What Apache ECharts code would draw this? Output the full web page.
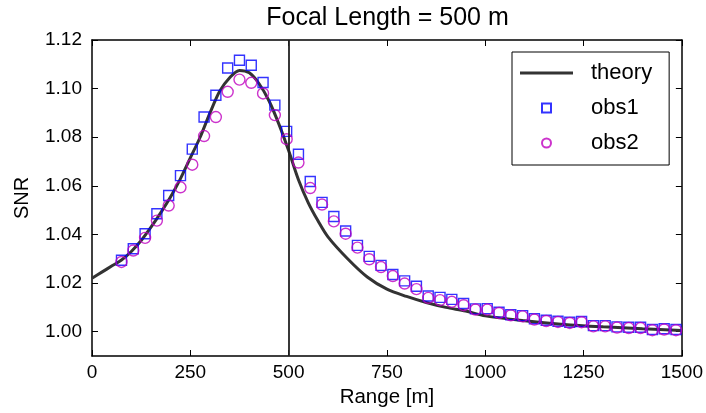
<!DOCTYPE html>
<html>
<head>
<meta charset="utf-8">
<script src="https://cdn.jsdelivr.net/npm/echarts@6/dist/echarts.min.js"></script>
<style>
html,body{margin:0;padding:0;background:#fff;}
#chart{width:706px;height:413px;}
</style>
</head>
<body>
<div id="chart"></div>
<script>
// ---- data ----
const titleText = 'Focal Length = 500 m';
const xTicks = [0, 250, 500, 750, 1000, 1250, 1500];
const yTicks = [1.00, 1.02, 1.04, 1.06, 1.08, 1.10, 1.12];
const focalLength = 500;

const theoryX = [0, 25, 50, 75, 100, 125, 150, 175, 200, 225, 250, 275, 300, 325, 350, 375, 400, 425, 450, 475, 500, 525, 550, 575, 600, 650, 700, 750, 800, 850, 900, 950, 1000, 1100, 1200, 1300, 1400, 1500];
const theoryY = [1.022, 1.0245, 1.027, 1.0295, 1.033, 1.0375, 1.043, 1.049, 1.0555, 1.063, 1.0715, 1.080, 1.090, 1.099, 1.1045, 1.1075, 1.1065, 1.102, 1.095, 1.0855, 1.0745, 1.0625, 1.053, 1.0455, 1.039, 1.030, 1.0225, 1.0175, 1.0145, 1.012, 1.010, 1.0085, 1.0065, 1.0045, 1.003, 1.002, 1.0012, 1.0005];

const obsX = [75, 105, 135, 165, 195, 225, 255, 285, 315, 345, 375, 405, 435, 465, 495, 525, 555, 585, 615, 645, 675, 705, 735, 765, 795, 825, 855, 885, 915, 945, 975, 1005, 1035, 1065, 1095, 1125, 1155, 1185, 1215, 1245, 1275, 1305, 1335, 1365, 1395, 1425, 1455, 1485];
const obs1Y = [1.0294, 1.0341, 1.0403, 1.0485, 1.056, 1.0642, 1.0751, 1.0883, 1.0973, 1.1085, 1.1117, 1.1096, 1.1025, 1.0932, 1.0824, 1.073, 1.0618, 1.0532, 1.0474, 1.0414, 1.0355, 1.031, 1.0273, 1.0235, 1.0209, 1.0187, 1.0147, 1.0141, 1.0133, 1.0116, 1.0094, 1.0095, 1.008, 1.007, 1.0066, 1.0053, 1.0047, 1.0043, 1.0039, 1.0042, 1.0025, 1.0025, 1.002, 1.0018, 1.0018, 1.0009, 1.0012, 1.0009];
const obs2Y = [1.0287, 1.0334, 1.0386, 1.0457, 1.0519, 1.0594, 1.0687, 1.0805, 1.0883, 1.0987, 1.1037, 1.1024, 1.098, 1.0891, 1.0792, 1.0696, 1.0591, 1.0523, 1.0454, 1.0403, 1.0346, 1.0298, 1.0266, 1.0229, 1.0198, 1.0175, 1.0139, 1.013, 1.0123, 1.0109, 1.0091, 1.0091, 1.0077, 1.0067, 1.0063, 1.005, 1.0044, 1.004, 1.0036, 1.0039, 1.0022, 1.0022, 1.0017, 1.0015, 1.0015, 1.0006, 1.0009, 1.0006];

// ---- chart ----
const FONT = 'Liberation Sans, Arial, sans-serif';
const zip = (a, b) => a.map((v, i) => [v, b[i]]);
const chart = echarts.init(document.getElementById('chart'), null, {renderer: 'canvas'});

const axisLineStyle = {color: '#000', width: 1.5};
function xAx(pos, showLabel) {
  return {
    type: 'value', position: pos, min: xTicks[0], max: xTicks[xTicks.length - 1], interval: 250,
    axisLine: {show: true, onZero: false, lineStyle: axisLineStyle},
    axisTick: {show: true, inside: true, length: 6, lineStyle: {color: '#000', width: 1}},
    axisLabel: {show: showLabel, color: '#000', fontSize: 19, fontFamily: FONT, margin: 7,
      formatter: v => String(v)},
    splitLine: {show: false},
    name: showLabel ? 'Range [m]' : '', nameLocation: 'middle', nameGap: 31,
    nameTextStyle: {color: '#000', fontSize: 20.5, fontFamily: FONT}
  };
}
function yAx(pos, showLabel) {
  return {
    type: 'value', position: pos, min: 0.99, max: 1.12,
    axisLine: {show: true, onZero: false, lineStyle: axisLineStyle},
    axisTick: {show: true, inside: true, length: 6, customValues: yTicks, lineStyle: {color: '#000', width: 1}},
    axisLabel: {show: showLabel, customValues: yTicks, color: '#000', fontSize: 19, fontFamily: FONT, margin: 10,
      formatter: v => Number(v).toFixed(2)},
    splitLine: {show: false},
    name: showLabel ? 'SNR' : '', nameLocation: 'middle', nameGap: 60, nameRotate: 90,
    nameTextStyle: {color: '#000', fontSize: 20, fontFamily: FONT}
  };
}

chart.setOption({
  animation: false,
  backgroundColor: '#fff',
  grid: {left: 92, right: 23, top: 40, bottom: 56, containLabel: false},
  graphic: [{
    type: 'text', x: 387.5, y: 6,
    style: {text: titleText, align: 'center', verticalAlign: 'top', fontSize: 25, fontFamily: FONT, fill: '#000'}
  }],
  legend: {
    orient: 'vertical', left: 512, top: 52,
    backgroundColor: '#fff', borderColor: '#000', borderWidth: 1,
    padding: [10, 17, 11, 8],
    itemWidth: 53, itemHeight: 9, itemGap: 13,
    symbolKeepAspect: true,
    textStyle: {color: '#000', fontSize: 22, fontFamily: FONT, padding: [0, 0, 0, 13], lineHeight: 22},
    data: [
      {name: 'theory', icon: 'path://M0,0L53,0L53,3L0,3Z', itemStyle: {color: '#333333', borderWidth: 0}},
      {name: 'obs1', icon: 'path://M0,0L10,0L10,10L0,10Z'},
      {name: 'obs2', icon: 'path://M5,0A5,5 0 1,1 5,10A5,5 0 1,1 5,0Z'}
    ]
  },
  xAxis: [xAx('bottom', true), xAx('top', false)],
  yAxis: [yAx('left', true), yAx('right', false)],
  series: [
    {
      name: 'theory', type: 'line', smooth: 0.3, symbol: 'none', z: 2,
      data: zip(theoryX, theoryY),
      lineStyle: {color: '#333333', width: 3},
      itemStyle: {color: '#333333'},
      markLine: {
        silent: true, symbol: 'none', label: {show: false},
        lineStyle: {color: '#222', width: 1.8, type: 'solid'},
        data: [{xAxis: focalLength}]
      }
    },
    {
      name: 'obs1', type: 'scatter', symbol: 'rect', symbolSize: 10, z: 3,
      data: zip(obsX, obs1Y),
      itemStyle: {color: 'rgba(255,255,255,0)', borderColor: '#0000ff', borderWidth: 1.4}
    },
    {
      name: 'obs2', type: 'scatter', symbol: 'circle', symbolSize: 11, z: 4,
      data: zip(obsX, obs2Y),
      itemStyle: {color: 'rgba(255,255,255,0)', borderColor: '#bf00bf', borderWidth: 1.4}
    }
  ]
});
</script>
</body>
</html>
